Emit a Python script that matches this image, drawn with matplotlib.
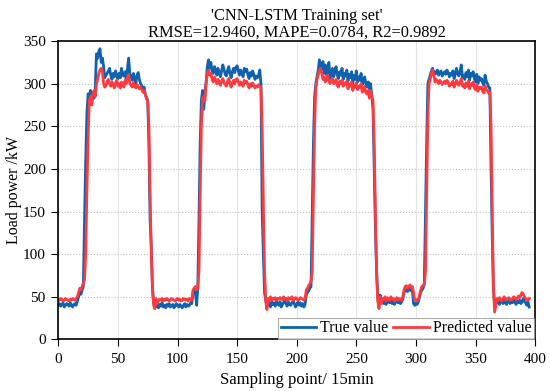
import numpy as np
import matplotlib
matplotlib.use('Agg')
import matplotlib.pyplot as plt

plt.rcParams['font.family'] = ['Liberation Serif', 'DejaVu Serif']

title = "'CNN-LSTM Training set'\nRMSE=12.9460, MAPE=0.0784, R2=0.9892"

# true load, samples 0..395
true_vals = [
    40, 42, 39, 41, 43, 38, 40, 42, 41, 39, 43, 40, 38, 41, 42, 40,
    45, 50, 55, 53, 58, 62,
    140, 210, 265, 288, 285, 292, 276, 290, 283, 295, 335, 330, 338, 341, 325, 330, 320, 307,
    310, 312, 315, 318, 310, 305, 312, 308, 315, 310, 306, 312, 307, 318, 310, 309, 314, 305,
    318, 330, 312, 308, 304, 312, 306, 300, 310, 313, 305, 300, 298, 292, 296, 287, 284, 280,
    230, 140, 110, 60, 42,
    40, 38, 42, 37, 41, 39, 43, 38, 40, 37, 41, 39, 42, 38, 40, 41, 37, 39, 42, 40,
    38, 41, 39, 37, 40, 42, 38, 41, 39, 40, 43, 42,
    55, 58, 56, 40, 60, 140, 230, 280, 292, 270, 290, 302, 320, 328, 318, 325, 315,
    312, 320, 316, 310, 318, 313, 308, 315, 322, 317, 311, 309, 316, 320, 312, 307, 314, 318, 313, 319,
    321, 315, 310, 316, 312, 308, 318, 314, 317, 311, 306, 313, 309, 315, 311, 305, 309, 307,
    310, 316, 300, 150, 100, 55, 45,
    42, 45, 40, 38, 44, 41, 43, 39, 45, 42, 40, 44, 38, 41, 43, 46, 42, 39, 44, 41,
    40, 43, 45, 42, 38, 41, 44, 40, 43, 39, 42, 38, 41,
    52, 55, 57, 60, 62, 150, 230, 285, 300, 308, 315, 328, 320, 318, 326, 312, 322, 310, 316, 325, 306,
    312, 318, 308, 315, 320, 310, 306, 314, 310, 318, 305, 312, 309, 316, 303, 311, 307, 314, 300, 310,
    305, 315, 302, 308, 304, 312, 299, 303, 308, 300, 296, 302, 294, 300,
    285, 270, 200, 130, 80, 48, 40, 52, 44,
    45, 42, 48, 41, 46, 44, 43, 47, 42, 45, 41, 44, 46, 43, 45, 42, 44, 47,
    55, 58, 60, 56, 59, 60, 57, 58, 42, 40, 43, 41, 44, 50, 55, 58, 60, 65,
    150, 230, 300, 305, 310, 315, 318, 310,
    314, 312, 316, 310, 313, 315, 309, 312, 314, 311, 316, 313, 308, 312, 310, 315, 306, 311, 318, 312,
    309, 314, 322, 307, 310, 305, 313, 308, 316, 304, 312, 309, 314, 306, 302, 311, 300, 308, 304, 306,
    301, 298, 310, 303, 300, 296,
    295, 200, 120, 60, 40,
    45, 43, 46, 41, 44, 47, 42, 45, 43, 41, 46, 44, 42, 45, 43, 47, 44, 41, 45, 43,
    46, 42, 44, 48, 45, 43, 40, 44, 38,
]

# predicted load, samples 0..395
pred_vals = [
    47, 46, 48, 47, 45, 46, 48, 47, 46, 45, 47, 46, 48, 47, 46, 48,
    50, 55, 60, 58, 62, 66,
    70, 100, 175, 235, 280, 285, 275, 288, 292, 285, 300, 305, 312, 316, 318, 314, 300, 296,
    298, 303, 305, 300, 297, 302, 299, 295, 301, 304, 297, 300, 295, 302, 299, 296, 304, 300,
    307, 311, 300, 298, 296, 301, 297, 295, 299, 297, 294, 296, 293, 290, 292, 287, 282, 280,
    250, 170, 100, 60, 40, 36, 48, 42, 46,
    47, 46, 48, 45, 47, 46, 48, 47, 45, 46, 48, 47, 46, 45, 47, 48, 46, 47, 45, 46,
    48, 47, 46, 47, 45, 48, 47, 46,
    58, 60, 62, 58, 60, 80, 170, 250, 282, 285, 280, 300, 312, 316, 310, 312, 305,
    302, 308, 304, 300, 305, 302, 298, 303, 306, 301, 299, 297, 303, 306, 300, 296, 301, 304, 300, 305,
    306, 302, 298, 302, 300, 297, 304, 301, 303, 299, 295, 300, 297, 301, 298, 295, 297, 296,
    299, 297, 295, 250, 160, 80, 45, 35, 48, 45, 50,
    46, 48, 47, 49, 46, 48, 47, 49, 48, 46, 50, 47, 48, 46, 49, 47, 48, 50, 46, 47,
    49, 48, 46, 47, 49, 48, 47, 46, 48,
    58, 60, 63, 65, 68, 80, 170, 250, 295, 305, 310, 316, 318, 312, 305, 308, 302, 306, 310, 303, 300,
    303, 306, 300, 302, 305, 298, 296, 303, 300, 304, 297, 301, 299, 303, 294, 300, 297, 302, 292, 298,
    296, 301, 293, 297, 295, 300, 290, 293, 297, 289, 288, 292, 283, 292,
    285, 280, 230, 150, 80, 45, 36, 50, 42,
    48, 46, 50, 45, 49, 47, 46, 50, 47, 48, 45, 47, 49, 46, 48, 47, 46, 50,
    58, 62, 63, 60, 62, 64, 61, 62, 55, 46, 47, 45, 47, 52, 58, 62, 63, 65,
    80, 170, 260, 300, 305, 312, 316, 310,
    302, 305, 303, 300, 304, 302, 299, 301, 303, 300, 304, 302, 297, 300, 299, 303, 296, 299, 304, 301,
    298, 302, 306, 297, 299, 295, 301, 297, 303, 294, 300, 298, 302, 295, 293, 299, 291, 296, 294, 296,
    291, 289, 297, 293, 292, 289,
    290, 250, 150, 60, 32, 40,
    48, 46, 49, 47, 45, 48, 50, 47, 46, 48, 49, 47, 46, 48, 50, 49, 47, 48, 51, 49,
    52, 55, 53, 50, 48, 47, 46, 48,
]

fig = plt.figure(figsize=(5.5, 3.91), dpi=100)
ax = fig.add_axes([0.106, 0.132, 0.867, 0.763])

ax.plot(np.arange(len(true_vals)), true_vals, color='#0e62b0', lw=2, label='True value')
ax.plot(np.arange(len(pred_vals)), pred_vals, color='#ff3a3f', lw=2, label='Predicted value')

ax.set_xlim(0, 400)
ax.set_ylim(0, 350)
ax.set_xticks(range(0, 401, 50))
ax.set_yticks(range(0, 351, 50))
ax.grid(axis='x', color='#e3e3e3', lw=0.8, ls='-')
ax.grid(axis='y', color='#bdbdbd', lw=0.8, ls=':')
ax.tick_params(labelsize=11, direction='out', length=5, pad=4)
ax.tick_params(axis='x', pad=5)
for s in ax.spines.values():
    s.set_linewidth(1.2)

ax.set_xlabel('Sampling point/ 15min', fontsize=12, labelpad=4)
ax.set_ylabel('Load power /kW', fontsize=11.5, labelpad=1)
ax.set_title(title, fontsize=11.8, linespacing=1.1, pad=3)

leg = ax.legend(loc='lower right', ncol=2, fontsize=11.5, frameon=True, fancybox=False,
                borderaxespad=0.05, handlelength=2.2, columnspacing=0.3, handletextpad=0.3,
                borderpad=0.15)
leg.get_frame().set_edgecolor('#999999')
leg.get_frame().set_linewidth(0.8)

fig.savefig('out.png', dpi=100)
